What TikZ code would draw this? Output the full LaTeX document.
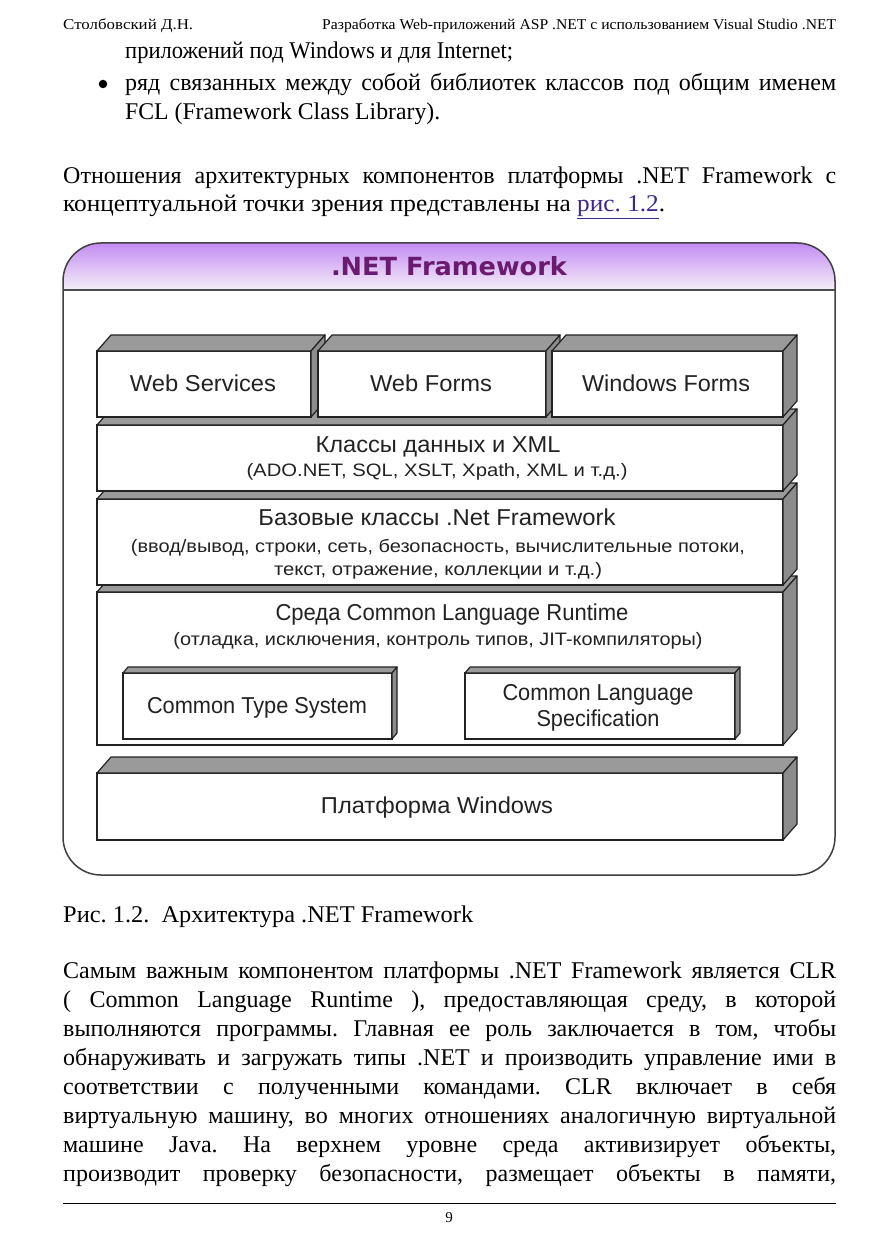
\documentclass[tikz,border=0pt]{standalone}
\usepackage{fontspec}
\setmainfont{Liberation Serif}
\newfontfamily\bodyf{Liberation Serif}
\newfontfamily\diagf{Liberation Sans}
\newfontfamily\titlef{DejaVu Sans}
\usetikzlibrary{calc}
\frenchspacing
\definecolor{hdtop}{HTML}{C48CF3}
\definecolor{hdbot}{HTML}{F4EFF8}
\definecolor{ttl}{HTML}{6A1B6F}
\definecolor{linkc}{HTML}{3E2690}
\definecolor{topg}{HTML}{9A9A9A}
\definecolor{sideg}{HTML}{8C8C8C}
\definecolor{ink}{HTML}{222222}
\newcommand\fitw[2]{\resizebox{#1pt}{\height}{#2}}
\newcommand\jline[2]{\makebox[#1pt][s]{#2}}
\newcommand\faces[3]{%
  \filldraw[topface] (#1.north west) -- ++(#2,#3) -- ($(#1.north east)+(#2,#3)$) -- (#1.north east) -- cycle;
  \filldraw[sideface] (#1.north east) -- ++(#2,#3) -- ($(#1.south east)+(#2,#3)$) -- (#1.south east) -- cycle;}
\tikzset{
  txt/.style={inner sep=0, anchor=base west, font=\bodyf\fontsize{24}{28}\selectfont\frenchspacing},
  hdr/.style={inner sep=0, anchor=base west, font=\bodyf\fontsize{15}{18}\selectfont},
  front/.style={draw=ink, line width=1.4pt, fill=white, anchor=north west, inner sep=0, outer sep=0},
  topface/.style={draw=ink, line width=1.2pt, fill=topg, line join=round},
  sideface/.style={draw=ink, line width=1.2pt, fill=sideg, line join=round},
  lab/.style={inner sep=0, anchor=base, text=ink, font=\diagf\fontsize{23}{26}\selectfont},
  sub/.style={inner sep=0, anchor=base, text=ink, font=\diagf\fontsize{18}{21}\selectfont},
}
\begin{document}
\begin{tikzpicture}[x=1pt,y=-1pt]
\useasboundingbox[fill=white] (0,0) rectangle (877,1241);
% header
\node[hdr] (h1) at (63,30) {\fitw{130}{Столбовский Д.Н.}};
\node[hdr] (h2) at (322,30) {\fitw{514}{Разработка Web-приложений ASP .NET с использованием Visual Studio .NET}};
% top text
\node[txt] (t1) at (125,59) {\fitw{388}{приложений под Windows и для Internet;}};
\node[circle, fill=black, inner sep=0, minimum size=8.5pt] (bul) at (103,84) {};
\node[txt] (t2) at (125,91) {\jline{711}{ряд связанных между собой библиотек классов под общим именем}};
\node[txt] (t3) at (125,120) {\fitw{315}{FCL (Framework Class Library).}};
\node[txt] (t4) at (63,184) {\jline{773}{Отношения архитектурных компонентов платформы .NET Framework с}};
\node[txt] (t5) at (63,212) {\fitw{602}{концептуальной точки зрения представлены на \textcolor{linkc}{\underline{рис. 1.2}}.}};
% frame
\shade[top color=hdtop, bottom color=hdbot] (63,290) [rounded corners=38pt] -- (63,243) -- (835,243) [sharp corners] -- (835,290) -- cycle;
\draw[draw=black!75, line width=1.5pt, rounded corners=38pt] (63,243) rectangle (835,875);
\draw[draw=black!70, line width=2pt] (63,290) -- (835,290);
\node[inner sep=0, text=ttl, font=\titlef\bfseries\fontsize{25}{28}\selectfont] (title) at (449,266) {\fitw{236}{.NET Framework}};
% row 5
\node[front, minimum width=686pt, minimum height=67pt] (win) at (97,773) {};
\faces{win}{14}{-16}
\node[lab] (lwin) at (437,813) {\fitw{232}{Платформа Windows}};
% row 4
\node[front, minimum width=686pt, minimum height=153pt] (clr) at (97,592) {};
\faces{clr}{14}{-16}
\node[lab] (lclr) at (452,620) {\fitw{353}{Среда Common Language Runtime}};
\node[sub] (sclr) at (438,645) {\fitw{529}{(отладка, исключения, контроль типов, JIT-компиляторы)}};
\node[front, minimum width=269pt, minimum height=66pt] (cts) at (123,673) {};
\faces{cts}{5}{-6}
\node[lab] (lcts) at (257,713) {\fitw{220}{Common Type System}};
\node[front, minimum width=270pt, minimum height=66pt] (cls) at (465,673) {};
\faces{cls}{5}{-6}
\node[lab] (lcls1) at (598,700) {\fitw{191}{Common Language}};
\node[lab] (lcls2) at (598,726) {\fitw{123}{Specification}};
% row 3
\node[front, minimum width=686pt, minimum height=86pt] (base) at (97,499) {};
\faces{base}{14}{-16}
\node[lab] (lbase) at (437,525) {\fitw{357}{Базовые классы .Net Framework}};
\node[sub] (sbase1) at (438,552) {\fitw{614}{(ввод/вывод, строки, сеть, безопасность, вычислительные потоки,}};
\node[sub] (sbase2) at (438,575) {\fitw{328}{текст, отражение, коллекции и т.д.)}};
% row 2
\node[front, minimum width=686pt, minimum height=66pt] (data) at (97,425) {};
\faces{data}{14}{-16}
\node[lab] (ldata) at (438,452) {\fitw{245}{Классы данных и XML}};
\node[sub] (sdata) at (437,476) {\fitw{381}{(ADO.NET, SQL, XSLT, Xpath, XML и т.д.)}};
% row 1
\node[front, minimum width=214pt, minimum height=66pt] (ws) at (97,351) {};
\faces{ws}{14}{-16}
\node[front, minimum width=228pt, minimum height=66pt] (wf) at (318,351) {};
\faces{wf}{14}{-16}
\node[front, minimum width=231pt, minimum height=66pt] (wif) at (552,351) {};
\faces{wif}{14}{-16}
\node[lab] (lws) at (203,391) {\fitw{146}{Web Services}};
\node[lab] (lwf) at (431,391) {\fitw{122}{Web Forms}};
\node[lab] (lwif) at (666,391) {\fitw{168}{Windows Forms}};
% caption
\node[txt] (cap) at (63,922) {\fitw{410}{Рис. 1.2.\ \ Архитектура .NET Framework}};
% paragraph
\node[txt] (p1) at (63,978) {\jline{773}{Самым важным компонентом платформы .NET Framework является CLR}};
\node[txt] (p2) at (63,1007) {\jline{773}{( Common Language Runtime ), предоставляющая среду, в которой}};
\node[txt] (p3) at (63,1036) {\jline{773}{выполняются программы. Главная ее роль заключается в том, чтобы}};
\node[txt] (p4) at (63,1065) {\jline{773}{обнаруживать и загружать типы .NET и производить управление ими в}};
\node[txt] (p5) at (63,1094) {\jline{773}{соответствии с полученными командами. CLR включает в себя}};
\node[txt] (p6) at (63,1123) {\jline{773}{виртуальную машину, во многих отношениях аналогичную виртуальной}};
\node[txt] (p7) at (63,1152) {\jline{773}{машине Java. На верхнем уровне среда активизирует объекты,}};
\node[txt] (p8) at (63,1181) {\jline{773}{производит проверку безопасности, размещает объекты в памяти,}};
% footer
\coordinate (fl) at (63,1203);
\coordinate (fr) at (836,1203);
\draw[line width=1pt] (fl) -- (fr);
\node[hdr, anchor=base] (pg) at (449,1222) {9};
\end{tikzpicture}
\end{document}
